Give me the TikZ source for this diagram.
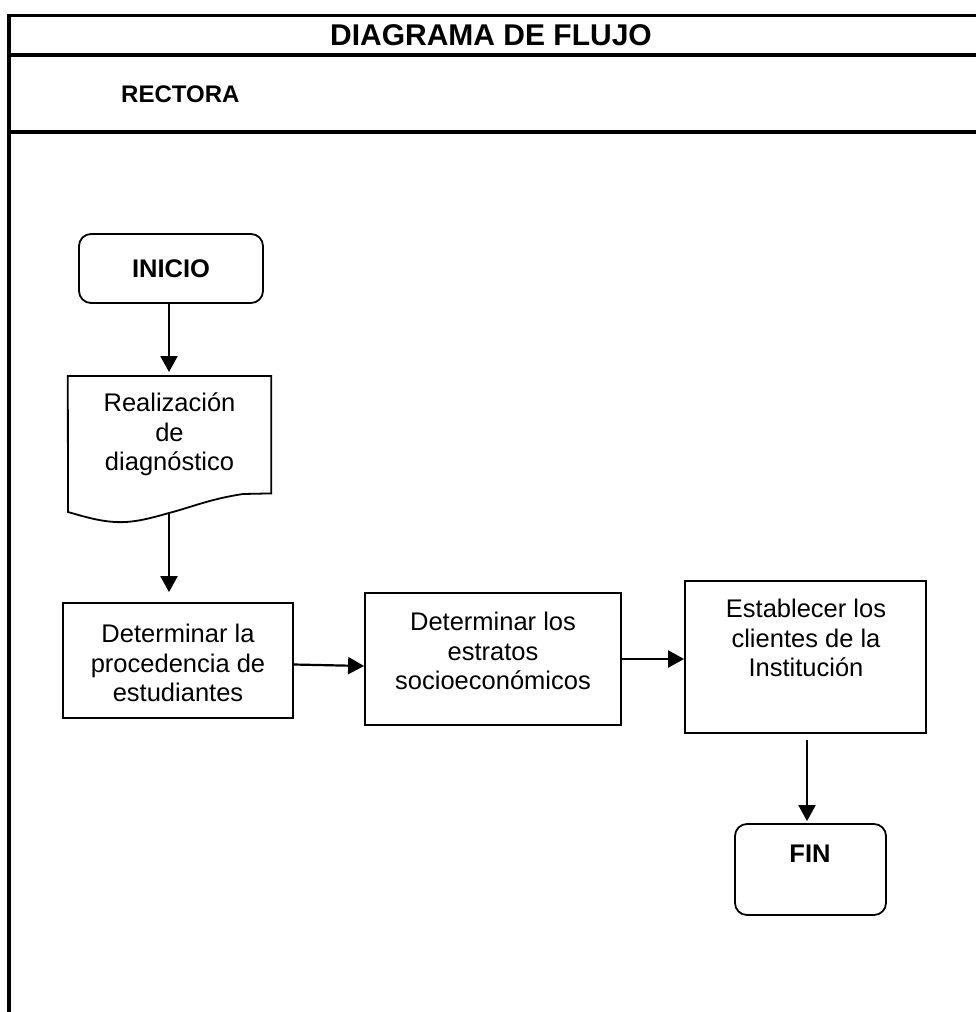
\documentclass[tikz,border=0pt]{standalone}
\usepackage{fontspec}
\setmainfont{Liberation Sans}
\usetikzlibrary{arrows.meta}

\begin{document}
\begin{tikzpicture}[x=1pt,y=-1pt,
  frame/.style={line width=3.6pt},
  box/.style={draw, line width=1.8pt, inner sep=0pt},
  term/.style={box, rounded corners=12pt},
  txt/.style={align=center, inner sep=0pt, font=\fontsize{25.5}{29.5}\selectfont},
  bold/.style={inner sep=0pt, font=\fontsize{25.5}{29.5}\selectfont\bfseries},
  arr/.style={line width=2.2pt, -{Triangle[width=17pt,length=16pt]}}]
\useasboundingbox (0,0) rectangle (976,1012);

% outer frame and header rows
\draw[frame] (9,1012) -- (9,15.5) -- (976,15.5);
\draw[frame] (9,55) -- (976,55);
\draw[frame] (9,132) -- (976,132);
\node[inner sep=0pt, font=\fontsize{30}{33}\selectfont\bfseries] (title) at (491,35) {DIAGRAMA DE FLUJO};
\node[inner sep=0pt, font=\fontsize{24}{28}\selectfont\bfseries, anchor=west] (lane) at (121,94) {RECTORA};

% start
\node[term, minimum width=184pt, minimum height=69pt, bold] (ini) at (171,268.5) {INICIO};

% document shape
\node[minimum width=203pt, minimum height=117pt, inner sep=0pt, anchor=north, txt] (doc) at (169.5,376)
  {Realización\\de\\diagnóstico};
\draw[line width=1.8pt] (doc.north west) -- (doc.north east) -- (doc.south east)
  -- (243,494) .. controls (210,499) and (192,507) .. (169,513)
  .. controls (148,519) and (132,523) .. (115,522)
  .. controls (98,521) and (82,516) .. (68,512) -- cycle;
\coordinate (wave) at (169,513);

% process boxes
\node[box, minimum width=230pt, minimum height=115pt] (b2) at (178,660.5) {};
\node[txt] (b2t) at (178,663) {Determinar la\\procedencia de\\estudiantes};

\node[box, minimum width=256pt, minimum height=132pt] (b3) at (493,659) {};
\node[txt] (b3t) at (493,651) {Determinar los\\estratos\\socioeconómicos};

\node[box, minimum width=241pt, minimum height=152pt] (b4) at (805.5,657) {};
\node[txt] (b4t) at (806,638) {Establecer los\\clientes de la\\Institución};

% end
\node[term, minimum width=151pt, minimum height=91pt] (fin) at (810.5,869.5) {};
\node[bold] (fint) at (810,854) {FIN};

% connectors
\draw[arr, shorten >=4pt] (ini.south -| 169,0) -- (doc.north -| 169,0);
\draw[arr, shorten >=10pt] (wave) -- (b2.north -| wave);
\draw[arr] ([yshift=-4pt]b2.east) -- ([yshift=-7pt]b3.west);
\draw[arr] (b3.east) -- (b3.east -| b4.west);
\draw[arr, shorten <=6pt, shorten >=2pt] (b4.south -| 807,0) -- (fin.north -| 807,0);
\end{tikzpicture}
\end{document}
